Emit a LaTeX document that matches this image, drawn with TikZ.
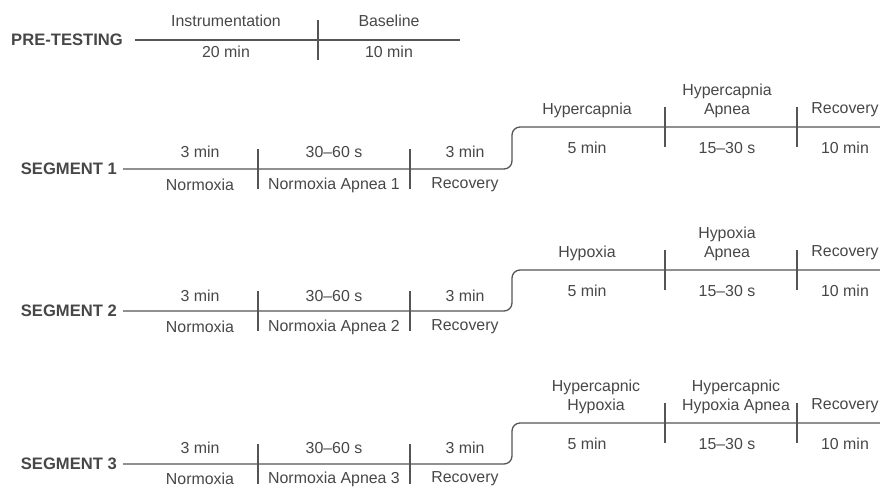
\documentclass[tikz,border=0pt]{standalone}
\usepackage{fontspec}
\setmainfont{Liberation Sans}
\definecolor{ink}{HTML}{474747}
\definecolor{rule}{HTML}{555555}
\begin{document}
\begin{tikzpicture}[x=1pt,y=-1pt,
  lbl/.style={font=\fontsize{15.9}{19}\selectfont, text=ink, inner sep=0pt, align=center},
  seglbl/.style={font=\bfseries\fontsize{16.6}{19}\selectfont, text=ink, inner sep=0pt, anchor=east},
  tl/.style={draw=rule, line width=1.3pt},
  tick/.style={draw=rule, line width=1.3pt}]
\useasboundingbox (0,0) rectangle (880,487);

% ---------- PRE-TESTING ----------
\node[seglbl] (pre) at (123,40) {PRE-TESTING};
\coordinate (preA) at (135,40);
\coordinate (preB) at (460,40);
\draw[tl] (preA) -- (preB);
\coordinate (preT1) at (318,20);
\coordinate (preT2) at (318,60);
\draw[tick] (preT1) -- (preT2);
\node[lbl] (preI) at (226,21) {Instrumentation};
\node[lbl] (preI2) at (226,52) {20 min};
\node[lbl] (preB1) at (389,21) {Baseline};
\node[lbl] (preB2) at (389,52) {10 min};

% ---------- SEGMENT 1 ----------
\node[seglbl] (s1) at (117,169) {SEGMENT 1};
\coordinate (s1a) at (123,169);
\coordinate (s1b) at (512,169);
\coordinate (s1c) at (512,127);
\coordinate (s1d) at (880,127);
\draw[tl, rounded corners=8pt] (s1a) -- (s1b) -- (s1c) -- (s1d);
\draw[tick] (258,149) coordinate (s1t1a) -- (258,189) coordinate (s1t1b);
\draw[tick] (410,149) coordinate (s1t2a) -- (410,189) coordinate (s1t2b);
\draw[tick] (665,107) coordinate (s1t3a) -- (665,147) coordinate (s1t3b);
\draw[tick] (797,107) coordinate (s1t4a) -- (797,147) coordinate (s1t4b);
\node[lbl] (s1n1) at (200,152) {3 min};
\node[lbl] (s1n2) at (200,185) {Normoxia};
\node[lbl] (s1n3) at (334,152) {30--60 s};
\node[lbl] (s1n4) at (334,185) {Normoxia Apnea 1};
\node[lbl] (s1n5) at (465,152) {3 min};
\node[lbl] (s1n6) at (465,185) {Recovery};
\node[lbl] (s1u1) at (587,110) {Hypercapnia};
\node[lbl] (s1u2) at (587,148) {5 min};
\node[lbl] (s1u3) at (727,100.5) {Hypercapnia\\Apnea};
\node[lbl] (s1u4) at (727,148) {15--30 s};
\node[lbl] (s1u5) at (845,110) {Recovery};
\node[lbl] (s1u6) at (845,148) {10 min};

% ---------- SEGMENT 2 ----------
\node[seglbl] (s2) at (117,311) {SEGMENT 2};
\coordinate (s2a) at (123,311);
\coordinate (s2b) at (512,311);
\coordinate (s2c) at (512,270);
\coordinate (s2d) at (880,270);
\draw[tl, rounded corners=8pt] (s2a) -- (s2b) -- (s2c) -- (s2d);
\draw[tick] (258,291) coordinate (s2t1a) -- (258,331) coordinate (s2t1b);
\draw[tick] (410,291) coordinate (s2t2a) -- (410,331) coordinate (s2t2b);
\draw[tick] (665,250) coordinate (s2t3a) -- (665,290) coordinate (s2t3b);
\draw[tick] (797,250) coordinate (s2t4a) -- (797,290) coordinate (s2t4b);
\node[lbl] (s2n1) at (200,296) {3 min};
\node[lbl] (s2n2) at (200,327) {Normoxia};
\node[lbl] (s2n3) at (334,296) {30--60 s};
\node[lbl] (s2n4) at (334,327) {Normoxia Apnea 2};
\node[lbl] (s2n5) at (465,296) {3 min};
\node[lbl] (s2n6) at (465,327) {Recovery};
\node[lbl] (s2u1) at (587,253) {Hypoxia};
\node[lbl] (s2u2) at (587,291) {5 min};
\node[lbl] (s2u3) at (727,243.5) {Hypoxia\\Apnea};
\node[lbl] (s2u4) at (727,291) {15--30 s};
\node[lbl] (s2u5) at (845,253) {Recovery};
\node[lbl] (s2u6) at (845,291) {10 min};

% ---------- SEGMENT 3 ----------
\node[seglbl] (s3) at (117,464) {SEGMENT 3};
\coordinate (s3a) at (123,464);
\coordinate (s3b) at (512,464);
\coordinate (s3c) at (512,423);
\coordinate (s3d) at (880,423);
\draw[tl, rounded corners=8pt] (s3a) -- (s3b) -- (s3c) -- (s3d);
\draw[tick] (258,444) coordinate (s3t1a) -- (258,484) coordinate (s3t1b);
\draw[tick] (410,444) coordinate (s3t2a) -- (410,484) coordinate (s3t2b);
\draw[tick] (665,403) coordinate (s3t3a) -- (665,443) coordinate (s3t3b);
\draw[tick] (797,403) coordinate (s3t4a) -- (797,443) coordinate (s3t4b);
\node[lbl] (s3n1) at (200,448) {3 min};
\node[lbl] (s3n2) at (200,479) {Normoxia};
\node[lbl] (s3n3) at (334,448) {30--60 s};
\node[lbl] (s3n4) at (334,479) {Normoxia Apnea 3};
\node[lbl] (s3n5) at (465,448) {3 min};
\node[lbl] (s3n6) at (465,479) {Recovery};
\node[lbl] (s3u1) at (596,396.5) {Hypercapnic\\Hypoxia};
\node[lbl] (s3u2) at (587,444) {5 min};
\node[lbl] (s3u3) at (736,396.5) {Hypercapnic\\Hypoxia Apnea};
\node[lbl] (s3u4) at (727,444) {15--30 s};
\node[lbl] (s3u5) at (845,406) {Recovery};
\node[lbl] (s3u6) at (845,444) {10 min};
\end{tikzpicture}
\end{document}
